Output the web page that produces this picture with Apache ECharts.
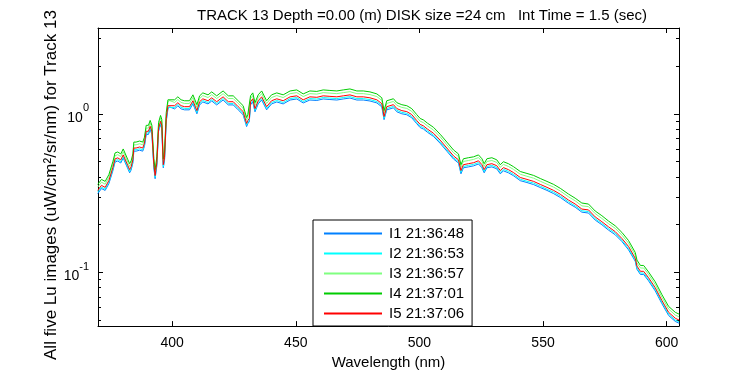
<!DOCTYPE html>
<html>
<head>
<meta charset="utf-8">
<script src="https://cdn.jsdelivr.net/npm/echarts@6/dist/echarts.min.js"></script>
<style>html,body{margin:0;padding:0;background:#fff}#c{width:750px;height:375px}</style>
</head>
<body>
<div id="c"></div>
<script>
const titleText = 'TRACK 13 Depth =0.00 (m) DISK size =24 cm   Int Time = 1.5 (sec)';
const xName = 'Wavelength (nm)';
const yName = 'All five Lu images (uW/cm\u00B2/sr/nm) for Track 13';
const seriesNames = ['I1 21:36:48', 'I2 21:36:53', 'I3 21:36:57', 'I4 21:37:01', 'I5 21:37:06'];
const seriesColors = ['#0080ff', '#00ffff', '#80ff80', '#00cc00', '#ff0000'];
const xMin = 370, xMax = 605;
const yMin = 0.0455, yMax = 3.49;
const minorTickValues = [0.05, 0.06, 0.07, 0.08, 0.09, 0.2, 0.3, 0.4, 0.5, 0.6, 0.7, 0.8, 0.9, 2, 3];

const wavelengths = [369.9,371.4,372.9,374.4,376.0,376.9,378.0,379.2,380.2,381.0,382.1,382.8,383.4,384.1,384.5,385.4,386.8,388.1,388.8,389.5,390.4,391.1,391.8,392.6,393.1,393.8,394.5,395.3,395.8,396.4,396.9,397.6,398.3,398.9,401.0,402.3,403.6,405.0,407.0,408.4,409.1,410.0,411.1,412.4,414.5,416.0,418.0,420.6,422.7,424.7,426.7,428.7,430.1,430.6,431.2,431.7,432.6,433.5,434.8,436.2,438.2,440.2,442.3,444.9,447.7,450.4,453.0,455.7,458.5,461.1,463.8,466.6,469.2,471.9,474.7,477.3,480.0,482.8,484.8,485.7,486.8,488.1,489.5,490.9,492.9,494.9,496.9,498.9,500.3,501.6,503.3,505.7,508.4,511.1,513.8,515.8,516.8,517.8,519.8,521.9,523.9,525.3,526.2,527.3,529.3,531.3,532.7,534.0,536.0,538.1,540.8,543.5,546.2,548.9,551.6,554.3,557.0,560.3,563.0,565.7,568.4,571.1,573.8,576.5,579.2,581.9,584.6,587.3,588.0,589.4,590.7,592.7,595.4,598.1,600.8,603.5,605.1];

const I5 = [0.328,0.353,0.343,0.379,0.457,0.519,0.527,0.512,0.550,0.542,0.470,0.444,0.463,0.512,0.608,0.608,0.617,0.608,0.653,0.776,0.776,0.834,0.776,0.477,0.407,0.491,0.810,0.896,0.846,0.477,0.527,0.935,1.126,1.159,1.126,1.176,1.126,1.110,1.110,1.210,1.193,1.048,1.193,1.245,1.210,1.263,1.193,1.281,1.193,1.193,1.110,1.033,0.870,0.908,0.935,1.193,1.245,1.079,1.210,1.281,1.110,1.210,1.245,1.210,1.281,1.300,1.227,1.281,1.272,1.300,1.290,1.281,1.300,1.318,1.281,1.281,1.263,1.227,1.159,0.962,1.110,1.126,1.143,1.079,1.048,1.033,0.990,0.908,0.858,0.840,0.800,0.754,0.682,0.608,0.542,0.512,0.438,0.477,0.484,0.491,0.505,0.477,0.444,0.477,0.484,0.470,0.438,0.457,0.444,0.425,0.396,0.385,0.374,0.358,0.343,0.328,0.310,0.285,0.269,0.250,0.247,0.223,0.208,0.193,0.180,0.163,0.145,0.122,0.109,0.101,0.101,0.092,0.0795,0.066,0.0556,0.051,0.0496];

const I1 = [0.313,0.337,0.328,0.362,0.436,0.496,0.503,0.489,0.525,0.518,0.449,0.424,0.442,0.489,0.581,0.581,0.589,0.581,0.624,0.741,0.741,0.796,0.741,0.456,0.389,0.469,0.774,0.856,0.808,0.456,0.503,0.893,1.075,1.107,1.075,1.123,1.075,1.060,1.060,1.156,1.139,1.001,1.139,1.189,1.156,1.206,1.139,1.223,1.139,1.139,1.060,0.987,0.831,0.867,0.893,1.139,1.189,1.030,1.156,1.223,1.060,1.156,1.189,1.156,1.223,1.242,1.172,1.223,1.215,1.242,1.232,1.223,1.242,1.259,1.223,1.223,1.206,1.172,1.107,0.919,1.060,1.075,1.092,1.030,1.001,0.987,0.945,0.867,0.819,0.802,0.764,0.720,0.651,0.581,0.518,0.489,0.418,0.456,0.462,0.469,0.482,0.456,0.424,0.456,0.462,0.449,0.418,0.436,0.424,0.406,0.378,0.368,0.357,0.342,0.328,0.313,0.296,0.272,0.257,0.239,0.236,0.213,0.199,0.184,0.172,0.156,0.138,0.117,0.104,0.0965,0.0965,0.0879,0.0759,0.0630,0.0531,0.0487,0.0474];

const I2 = [0.320,0.344,0.334,0.370,0.446,0.506,0.514,0.499,0.536,0.528,0.458,0.433,0.451,0.499,0.593,0.593,0.602,0.593,0.637,0.757,0.757,0.813,0.757,0.465,0.397,0.479,0.790,0.874,0.825,0.465,0.514,0.912,1.098,1.130,1.098,1.147,1.098,1.082,1.082,1.180,1.163,1.022,1.163,1.214,1.180,1.231,1.163,1.249,1.163,1.163,1.082,1.007,0.848,0.885,0.912,1.163,1.214,1.052,1.180,1.249,1.082,1.180,1.214,1.180,1.249,1.268,1.196,1.249,1.240,1.268,1.258,1.249,1.268,1.285,1.249,1.249,1.231,1.196,1.130,0.938,1.082,1.098,1.114,1.052,1.022,1.007,0.965,0.885,0.837,0.819,0.780,0.735,0.665,0.593,0.528,0.499,0.427,0.465,0.472,0.479,0.492,0.465,0.433,0.465,0.472,0.458,0.427,0.446,0.433,0.414,0.386,0.375,0.365,0.349,0.334,0.320,0.302,0.278,0.262,0.244,0.241,0.217,0.203,0.188,0.176,0.159,0.141,0.119,0.106,0.0985,0.0985,0.0897,0.0775,0.0644,0.0542,0.0497,0.0484];

const I3 = [0.344,0.370,0.359,0.397,0.479,0.544,0.552,0.537,0.576,0.568,0.493,0.465,0.485,0.537,0.637,0.637,0.647,0.637,0.684,0.813,0.813,0.874,0.813,0.500,0.427,0.515,0.849,0.939,0.887,0.500,0.552,0.980,1.180,1.215,1.180,1.232,1.180,1.163,1.163,1.268,1.250,1.098,1.250,1.305,1.268,1.324,1.250,1.342,1.250,1.250,1.163,1.083,0.912,0.952,0.980,1.250,1.305,1.131,1.268,1.342,1.163,1.268,1.305,1.268,1.342,1.362,1.286,1.342,1.333,1.362,1.352,1.342,1.362,1.381,1.342,1.342,1.324,1.286,1.215,1.008,1.163,1.180,1.198,1.131,1.098,1.083,1.038,0.952,0.899,0.880,0.838,0.790,0.715,0.637,0.568,0.537,0.459,0.500,0.507,0.515,0.529,0.500,0.465,0.500,0.507,0.493,0.459,0.479,0.465,0.445,0.415,0.403,0.392,0.375,0.359,0.344,0.325,0.299,0.282,0.262,0.259,0.234,0.218,0.202,0.189,0.171,0.152,0.128,0.114,0.106,0.106,0.0964,0.0833,0.0692,0.0583,0.0534,0.0520];

const I4 = [0.358,0.385,0.374,0.413,0.498,0.566,0.574,0.558,0.600,0.591,0.512,0.484,0.505,0.558,0.663,0.663,0.673,0.663,0.712,0.846,0.846,0.909,0.846,0.520,0.444,0.535,0.883,0.977,0.922,0.520,0.574,1.019,1.227,1.263,1.227,1.282,1.227,1.210,1.210,1.319,1.300,1.142,1.300,1.357,1.319,1.377,1.300,1.396,1.300,1.300,1.210,1.126,0.948,0.990,1.019,1.300,1.357,1.176,1.319,1.396,1.210,1.319,1.357,1.319,1.396,1.417,1.337,1.396,1.386,1.417,1.406,1.396,1.417,1.437,1.396,1.396,1.377,1.337,1.263,1.049,1.210,1.227,1.246,1.176,1.142,1.126,1.079,0.990,0.935,0.916,0.872,0.822,0.743,0.663,0.591,0.558,0.477,0.520,0.528,0.535,0.550,0.520,0.484,0.520,0.528,0.512,0.477,0.498,0.484,0.463,0.432,0.420,0.408,0.390,0.374,0.358,0.338,0.311,0.293,0.273,0.269,0.243,0.227,0.210,0.196,0.178,0.158,0.133,0.119,0.110,0.110,0.100,0.0867,0.0719,0.0606,0.0556,0.0541];

const seriesValues = [I1, I2, I3, I4, I5];
const FONT = 'Liberation Sans';

const chart = echarts.init(document.getElementById('c'), null, {renderer: 'canvas'});

function isPow10(v) {
  const e = Math.log10(v);
  return Math.abs(e - Math.round(e)) < 1e-6;
}

const lineSeries = seriesNames.map((name, k) => ({
  name: name,
  type: 'line',
  symbol: 'none',
  showSymbol: false,
  animation: false,
  clip: true,
  lineStyle: {color: seriesColors[k], width: 1},
  itemStyle: {color: seriesColors[k]},
  data: wavelengths.map((w, i) => [w, seriesValues[k][i]])
}));

const minorSeries = {
  type: 'custom',
  silent: true,
  animation: false,
  xAxisIndex: 0,
  yAxisIndex: 0,
  data: minorTickValues.map(v => [xMin, v]),
  renderItem: function (params, api) {
    const cs = params.coordSys;
    const y = Math.round(api.coord([xMin, api.value(1)])[1]) + 0.5;
    const style = {stroke: '#000', lineWidth: 1};
    return {
      type: 'group',
      children: [
        {type: 'line', shape: {x1: cs.x, y1: y, x2: cs.x + 3, y2: y}, style: style},
        {type: 'line', shape: {x1: cs.x + cs.width - 3, y1: y, x2: cs.x + cs.width, y2: y}, style: style}
      ]
    };
  }
};

const axisLineStyle = {show: true, onZero: false, lineStyle: {color: '#000', width: 1}};
const tickStyle = {show: true, inside: true, length: 5, lineStyle: {color: '#000', width: 1}};

chart.setOption({
  animation: false,
  backgroundColor: '#fff',
  title: {
    text: titleText,
    left: 192,
    top: 3,
    textStyle: {fontFamily: FONT, fontSize: 15, fontWeight: 'normal', color: '#000'}
  },
  grid: {left: 98, top: 28, right: 71, bottom: 44, containLabel: false},
  legend: {
    data: seriesNames.map((n, k) => ({
      name: n,
      itemStyle: {color: seriesColors[k], opacity: 0},
      lineStyle: {color: seriesColors[k], width: 2, opacity: 1}
    })),
    orient: 'vertical',
    left: 313,
    top: 220,
    width: 154,
    padding: [6, 8, 5, 10],
    itemGap: 5,
    itemWidth: 58,
    itemHeight: 14,
    backgroundColor: '#fff',
    borderColor: '#000',
    borderWidth: 1,
    borderRadius: 0,
    textStyle: {fontFamily: FONT, fontSize: 15, lineHeight: 14, color: '#000', padding: [0, 0, 0, 2]}
  },
  xAxis: [{
    type: 'value',
    min: xMin,
    max: xMax,
    name: xName,
    nameLocation: 'middle',
    nameGap: 23,
    nameTextStyle: {fontFamily: FONT, fontSize: 15, color: '#000'},
    axisLine: axisLineStyle,
    axisTick: tickStyle,
    splitLine: {show: false},
    axisLabel: {
      fontFamily: FONT, fontSize: 14, color: '#000', margin: 10,
      showMinLabel: false, showMaxLabel: false,
      formatter: v => (v % 50 === 0 ? String(v) : '')
    }
  }, {
    type: 'value',
    position: 'top',
    min: xMin,
    max: xMax,
    axisLine: axisLineStyle,
    axisTick: tickStyle,
    splitLine: {show: false},
    axisLabel: {show: false}
  }],
  yAxis: [{
    type: 'log',
    logBase: 10,
    min: yMin,
    max: yMax,
    name: yName,
    nameLocation: 'middle',
    nameGap: 38,
    nameMoveOverlap: false,
    nameTextStyle: {fontFamily: FONT, fontSize: 17, color: '#000', padding: [0, 16, 0, 0]},
    axisLine: axisLineStyle,
    axisTick: tickStyle,
    splitLine: {show: false},
    minorTick: {show: false},
    axisLabel: {
      margin: 9,
      showMinLabel: false, showMaxLabel: false,
      formatter: function (v) {
        if (!isPow10(v)) return '';
        return '{b|10}{s|' + Math.round(Math.log10(v)) + '}';
      },
      rich: {
        b: {fontFamily: FONT, fontSize: 14, color: '#000', verticalAlign: 'bottom', lineHeight: 22},
        s: {fontFamily: FONT, fontSize: 11, color: '#000', verticalAlign: 'top', lineHeight: 22}
      }
    }
  }, {
    type: 'log',
    logBase: 10,
    position: 'right',
    min: yMin,
    max: yMax,
    axisLine: axisLineStyle,
    axisTick: tickStyle,
    splitLine: {show: false},
    axisLabel: {show: false}
  }],
  series: lineSeries.concat([minorSeries])
});
</script>
</body>
</html>
